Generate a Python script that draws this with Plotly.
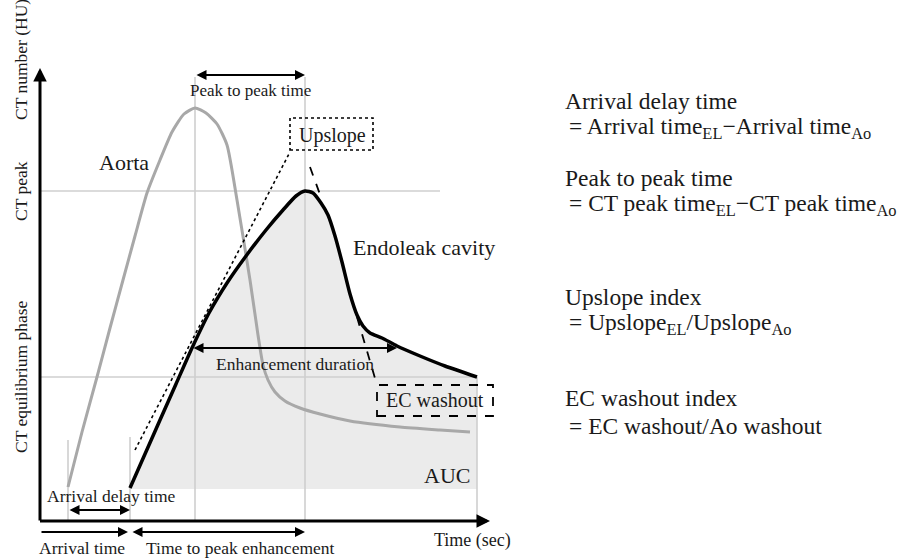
import plotly.graph_objects as go

# ---------------- data (time in arbitrary sec units, CT number in HU units) ----------------
aorta_t = [28, 42, 57, 70, 83, 95, 107, 120, 132, 144, 155, 166, 177, 187, 197, 210, 218, 223, 228, 235, 245, 260, 280, 310, 360, 400, 430]
aorta_hu = [34, 89, 144, 193, 241, 285, 328, 361, 389, 407, 413, 408, 397, 376, 321, 241, 186, 156, 141, 129, 120, 113, 107, 100, 94, 91, 89]

el_t = [90, 105, 120, 136, 152, 169, 187, 206, 226, 243, 256, 265, 273, 281, 288, 295, 302, 310, 317, 323, 330, 342, 357, 380, 405, 437]
el_hu = [33, 67, 101, 137, 173, 208, 238, 265, 291, 311, 325, 330, 328, 318, 306, 285, 259, 227, 206, 195, 188, 183, 175, 165, 155, 144]

auc_base_hu = 32

upslope_t = [95, 250]
upslope_hu = [71, 369]
peak_dash_t = [270, 282]
peak_dash_hu = [354, 321]
washout_dash_t = [317, 337]
washout_dash_hu = [204, 136]

right_titles = ["Arrival delay time", "Peak to peak time", "Upslope index", "EC washout index"]
right_formulas = [
    "= Arrival time<sub>EL</sub>\u2212Arrival time<sub>Ao</sub>",
    "= CT peak time<sub>EL</sub>\u2212CT peak time<sub>Ao</sub>",
    "= Upslope<sub>EL</sub>/Upslope<sub>Ao</sub>",
    "= EC washout/Ao washout",
]
right_title_hu = [420, 343, 224, 123]
right_formula_hu = [393, 316, 197, 95]

# ---------------- derived reference values ----------------
ao_arrival = aorta_t[0]
el_arrival = el_t[0]
ao_peak_t = aorta_t[aorta_hu.index(max(aorta_hu))]
el_peak_i = el_hu.index(max(el_hu))
el_peak_t = el_t[el_peak_i]
el_peak_hu = el_hu[el_peak_i]
eq_hu = el_hu[-1]
end_t = el_t[-1]

FONT = "Liberation Serif"
GRID = "#cfcfcf"
fig = go.Figure()

# AUC fill
fig.add_trace(go.Scatter(x=[el_t[0], el_t[-1]], y=[auc_base_hu, auc_base_hu], mode="lines",
                         line=dict(width=0), hoverinfo="skip"))
fig.add_trace(go.Scatter(x=el_t, y=el_hu, mode="lines", line=dict(width=0, shape="spline", smoothing=0.6),
                         fill="tonexty", fillcolor="#ebebeb", hoverinfo="skip"))

# grid / reference lines
def gline(xs, ys):
    fig.add_trace(go.Scatter(x=xs, y=ys, mode="lines", line=dict(color=GRID, width=1.6), hoverinfo="skip"))

gline([0, 400], [el_peak_hu, el_peak_hu])
gline([0, end_t], [eq_hu, eq_hu])
gline([ao_arrival, ao_arrival], [0, 81])
gline([el_arrival, el_arrival], [0, 84])
gline([ao_peak_t, ao_peak_t], [0, 444])
gline([el_peak_t, el_peak_t], [0, 444])
gline([end_t, end_t], [0, eq_hu])

# curves
fig.add_trace(go.Scatter(x=aorta_t, y=aorta_hu, mode="lines",
                         line=dict(color="#a8a8a8", width=3, shape="spline", smoothing=0.6)))
fig.add_trace(go.Scatter(x=el_t, y=el_hu, mode="lines",
                         line=dict(color="black", width=3.5, shape="spline", smoothing=0.6)))
fig.add_trace(go.Scatter(x=upslope_t, y=upslope_hu, mode="lines",
                         line=dict(color="black", width=1.6, dash="dot")))
fig.add_trace(go.Scatter(x=peak_dash_t, y=peak_dash_hu, mode="lines",
                         line=dict(color="black", width=1.8, dash="dash")))
fig.add_trace(go.Scatter(x=washout_dash_t, y=washout_dash_hu, mode="lines",
                         line=dict(color="black", width=1.8, dash="dash")))

# boxes
fig.add_shape(type="rect", x0=250, x1=333, y0=371, y1=403, line=dict(color="black", width=1.6, dash="dot"))
fig.add_shape(type="rect", x0=337, x1=453, y0=105, y1=136, line=dict(color="black", width=1.8, dash="dash"))

anns = []

def arrow(x0, y0, x1, y1, width=2, both=False, size=1.0):
    anns.append(dict(x=x1, y=y1, ax=x0, ay=y0, xref="x", yref="y", axref="x", ayref="y",
                     text="", showarrow=True, arrowhead=2, arrowsize=size, arrowwidth=width,
                     arrowcolor="black", arrowside="end+start" if both else "end",
                     startarrowhead=2, startarrowsize=size, standoff=0, startstandoff=0))

# axes
arrow(0, -1, 0, 453, width=3, size=0.9)
arrow(-1.5, 0, 450, 0, width=3, size=0.9)
# measurement arrows
arrow(ao_peak_t, 446, el_peak_t, 446, both=True)
arrow(152, 173, 357, 173, both=True)
arrow(ao_arrival, 11, el_arrival, 11, both=True)
arrow(0, -11, el_arrival - 2, -11)
arrow(el_arrival + 1, -11, el_peak_t, -11, both=True)

def txt(x, y, s, size, angle=0, xanchor="center", color="#1a1a1a"):
    anns.append(dict(x=x, y=y, xref="x", yref="y", text=s, showarrow=False, textangle=angle,
                     xanchor=xanchor, yanchor="middle", font=dict(family=FONT, size=size, color=color)))

txt(84, 359, "Aorta", 22)
txt(384, 274, "Endoleak cavity", 22)
txt(407, 46, "AUC", 22)
txt(292, 386, "Upslope", 20)
txt(395, 121, "EC washout", 20)
txt(210, 431, "Peak to peak time", 17)
txt(255, 157, "Enhancement duration", 17.5)
txt(71, 25, "Arrival delay time", 17.5)
txt(42, -27, "Arrival time", 17.5)
txt(200, -27, "Time to peak enhancement", 17.5)
txt(432, -19, "Time (sec)", 18)
txt(-19, 461, "CT number (HU)", 17.5, angle=-90)
txt(-19, el_peak_hu, "CT peak", 17.5, angle=-90)
txt(-19, eq_hu, "CT equilibrium phase", 17.5, angle=-90)

for title, hu in zip(right_titles, right_title_hu):
    txt(523, hu, title, 23.5, xanchor="left")
for form, hu in zip(right_formulas, right_formula_hu):
    txt(527, hu, form, 23.5, xanchor="left")

fig.update_layout(
    width=902, height=558, margin=dict(l=0, r=0, t=0, b=0),
    plot_bgcolor="white", paper_bgcolor="white", showlegend=False,
    xaxis=dict(visible=False, range=[-40, 862], fixedrange=True),
    yaxis=dict(visible=False, range=[-37, 521], fixedrange=True),
    annotations=anns,
)

fig.write_html("out.html", config={"displayModeBar": False},
               post_script="document.body.style.margin='0';document.body.style.overflow='hidden';")
